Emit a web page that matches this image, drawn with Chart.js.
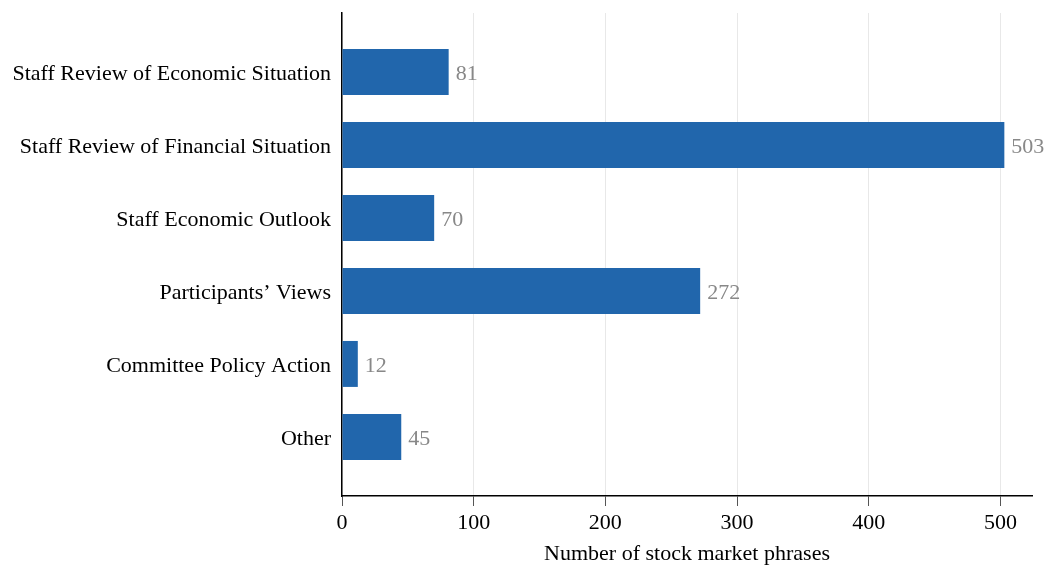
<!DOCTYPE html>
<html>
<head>
<meta charset="utf-8">
<script src="https://cdn.jsdelivr.net/npm/chart.js@4/dist/chart.umd.min.js"></script>
<style>
  body { margin: 0; background: #fff; }
  #wrap { width: 1047px; height: 567px; }
</style>
</head>
<body>
<div id="wrap"><canvas id="barCanvas"></canvas></div>
<script>
const sections = ["Staff Review of Economic Situation", "Staff Review of Financial Situation", "Staff Economic Outlook", "Participants\u2019 Views", "Committee Policy Action", "Other"]
const phraseCounts = [81, 503, 70, 272, 12, 45]
const xTicks = [0, 100, 200, 300, 400, 500]

const serif = "'Liberation Serif', 'Times New Roman', serif"

// value labels at the end of each bar
const barLabels = {
    id: 'barLabels',
    afterDatasetsDraw(chart) {
        const ctx = chart.ctx
        const meta = chart.getDatasetMeta(0)
        ctx.save()
        ctx.font = "22px " + serif
        ctx.fillStyle = "#888888"
        ctx.textBaseline = "middle"
        ctx.textAlign = "left"
        meta.data.forEach((bar, i) => {
            ctx.fillText(String(phraseCounts[i]), bar.x + 7, bar.y + 2)
        })
        ctx.restore()
    }
}

const barCanvas = document.getElementById('barCanvas')

const barChart = new Chart(barCanvas, {
    type: "bar",
    data: {
        datasets: [{
            data: phraseCounts.map((v, i) => ({x: v, y: i})),
            backgroundColor: "#2166ac",
            categoryPercentage: 1,
            barPercentage: 0.63,
        }]
    },
    plugins: [barLabels],
    options: {
        indexAxis: 'y',
        responsive: true,
        maintainAspectRatio: false,
        animation: false,
        layout: { padding: { top: 13, right: 15, left: 0, bottom: 0 } },
        plugins: {
            legend: { display: false },
            tooltip: { enabled: false }
        },
        scales: {
            x: {
                type: 'linear',
                min: 0,
                max: 524,
                afterBuildTicks: s => { s.ticks = xTicks.map(v => ({value: v})) },
                grid: {
                    color: "#e8e8e8",
                    tickColor: "#555555",
                    tickLength: 10,
                    drawTicks: true
                },
                border: { display: true, color: "#000000", width: 1.5 },
                ticks: {
                    color: "#000000",
                    font: { family: serif, size: 22 },
                    padding: 4,
                    maxRotation: 0
                },
                title: {
                    display: true,
                    text: "Number of stock market phrases",
                    color: "#000000",
                    font: { family: serif, size: 22 },
                    padding: { top: 2, bottom: 0 }
                },
                afterFit: s => { s.height = 71 }
            },
            y: {
                type: 'linear',
                reverse: true,
                offset: false,
                min: -0.81,
                max: 5.81,
                afterBuildTicks: s => { s.ticks = sections.map((c, i) => ({value: i})) },
                grid: { display: false, drawTicks: false },
                border: { display: true, color: "#000000", width: 1.5 },
                ticks: {
                    color: "#000000",
                    font: { family: serif, size: 22 },
                    padding: 11,
                    labelOffset: 2,
                    callback: v => sections[v]
                },
                afterFit: s => { s.width = 342; s.paddingTop = 0; s.paddingBottom = 0 }
            }
        }
    }
})
</script>
</body>
</html>
